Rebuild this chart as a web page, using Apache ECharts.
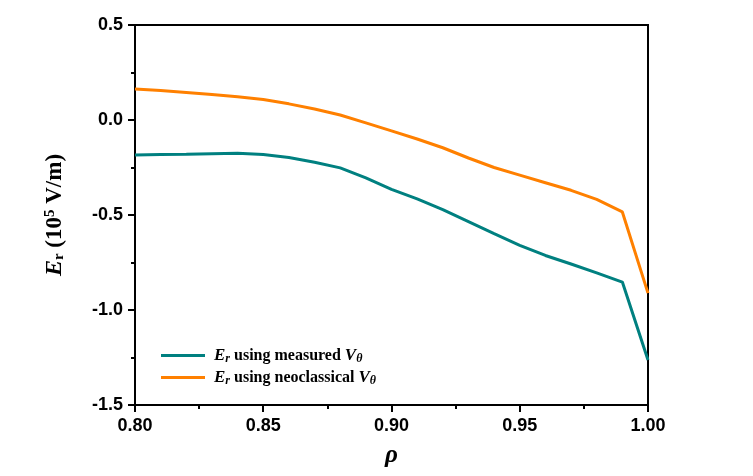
<!DOCTYPE html>
<html><head><meta charset="utf-8">
<script src="https://cdn.jsdelivr.net/npm/echarts@6/dist/echarts.min.js"></script>
<style>html,body{margin:0;padding:0;background:#fff}#c{width:753px;height:476px}</style>
</head><body><div id="c"></div>
<script>
const rho = [0.80,0.81,0.82,0.83,0.84,0.85,0.86,0.87,0.88,0.89,0.90,0.91,0.92,0.93,0.94,0.95,0.96,0.97,0.98,0.99,1.00];
const erMeasured = [-0.184,-0.182,-0.180,-0.177,-0.175,-0.182,-0.197,-0.222,-0.252,-0.305,-0.365,-0.415,-0.472,-0.535,-0.598,-0.660,-0.713,-0.758,-0.805,-0.853,-1.263];
const erNeo = [0.163,0.155,0.145,0.134,0.122,0.108,0.085,0.058,0.026,-0.015,-0.057,-0.100,-0.146,-0.200,-0.250,-0.290,-0.330,-0.370,-0.418,-0.484,-0.911];
const seriesNames = ['measured','neoclassical'];

const chart = echarts.init(document.getElementById('c'));
const serif = '"Liberation Serif", "Times New Roman", serif';
const sans = '"Liberation Sans", Arial, sans-serif';
const richLegend = {
  i:{fontFamily:serif,fontWeight:'bold',fontStyle:'italic',fontSize:17,color:'#000'},
  s:{fontFamily:serif,fontWeight:'bold',fontStyle:'italic',fontSize:12,color:'#000',padding:[7,0,0,0]},
  b:{fontFamily:serif,fontWeight:'bold',fontSize:16,color:'#000'}
};
chart.setOption({
  animation:false,
  grid:{left:135,right:105,top:25,bottom:71,show:true,borderColor:'#000',borderWidth:2,backgroundColor:'transparent'},
  legend:{
    left:156, top:342, orient:'vertical', icon:'rect', itemWidth:44, itemHeight:3, itemGap:4,
    data:seriesNames,
    formatter:function(n){return '{i|E}{s|r}{b| using '+n+' }{i|V}{s|θ}';},
    textStyle:{rich:richLegend, padding:[0,0,0,4]}
  },
  xAxis:{
    type:'value', min:0.80, max:1.00, interval:0.05,
    axisLine:{show:true,onZero:false,lineStyle:{color:'#000',width:2}},
    axisTick:{show:true,inside:false,length:7,lineStyle:{color:'#000',width:2}},
    minorTick:{show:true,splitNumber:2,length:4,lineStyle:{color:'#000',width:2}},
    splitLine:{show:false},
    axisLabel:{margin:12,fontFamily:sans,fontWeight:'bold',fontSize:18,color:'#000',formatter:v=>v.toFixed(2)},
    name:'ρ', nameLocation:'middle', nameGap:38,
    nameTextStyle:{fontFamily:serif,fontWeight:'bold',fontStyle:'italic',fontSize:25,color:'#000'}
  },
  yAxis:{
    type:'value', min:-1.5, max:0.5, interval:0.5,
    axisLine:{show:true,onZero:false,lineStyle:{color:'#000',width:2}},
    axisTick:{show:true,inside:false,length:7,lineStyle:{color:'#000',width:2}},
    minorTick:{show:true,splitNumber:2,length:4,lineStyle:{color:'#000',width:2}},
    splitLine:{show:false},
    axisLabel:{margin:12,fontFamily:sans,fontWeight:'bold',fontSize:18,color:'#000',formatter:v=>v.toFixed(1)},
    name:'{i|E}{s|r}{b| (10}{p|5}{b| V/m)}', nameLocation:'middle', nameGap:68, nameRotate:90,
    nameTextStyle:{rich:{
      i:{fontFamily:serif,fontWeight:'bold',fontStyle:'italic',fontSize:24,color:'#000'},
      s:{fontFamily:serif,fontWeight:'bold',fontSize:15,color:'#000',padding:[9,0,0,0]},
      b:{fontFamily:serif,fontWeight:'bold',fontSize:23,color:'#000'},
      p:{fontFamily:serif,fontWeight:'bold',fontSize:15,color:'#000',padding:[0,0,9,0]}
    }}
  },
  series:[
    {name:seriesNames[0],type:'line',symbol:'none',data:rho.map((x,i)=>[x,erMeasured[i]]),lineStyle:{color:'#008080',width:3},itemStyle:{color:'#008080'}},
    {name:seriesNames[1],type:'line',symbol:'none',data:rho.map((x,i)=>[x,erNeo[i]]),lineStyle:{color:'#FF8000',width:3},itemStyle:{color:'#FF8000'}}
  ]
});
</script></body></html>
